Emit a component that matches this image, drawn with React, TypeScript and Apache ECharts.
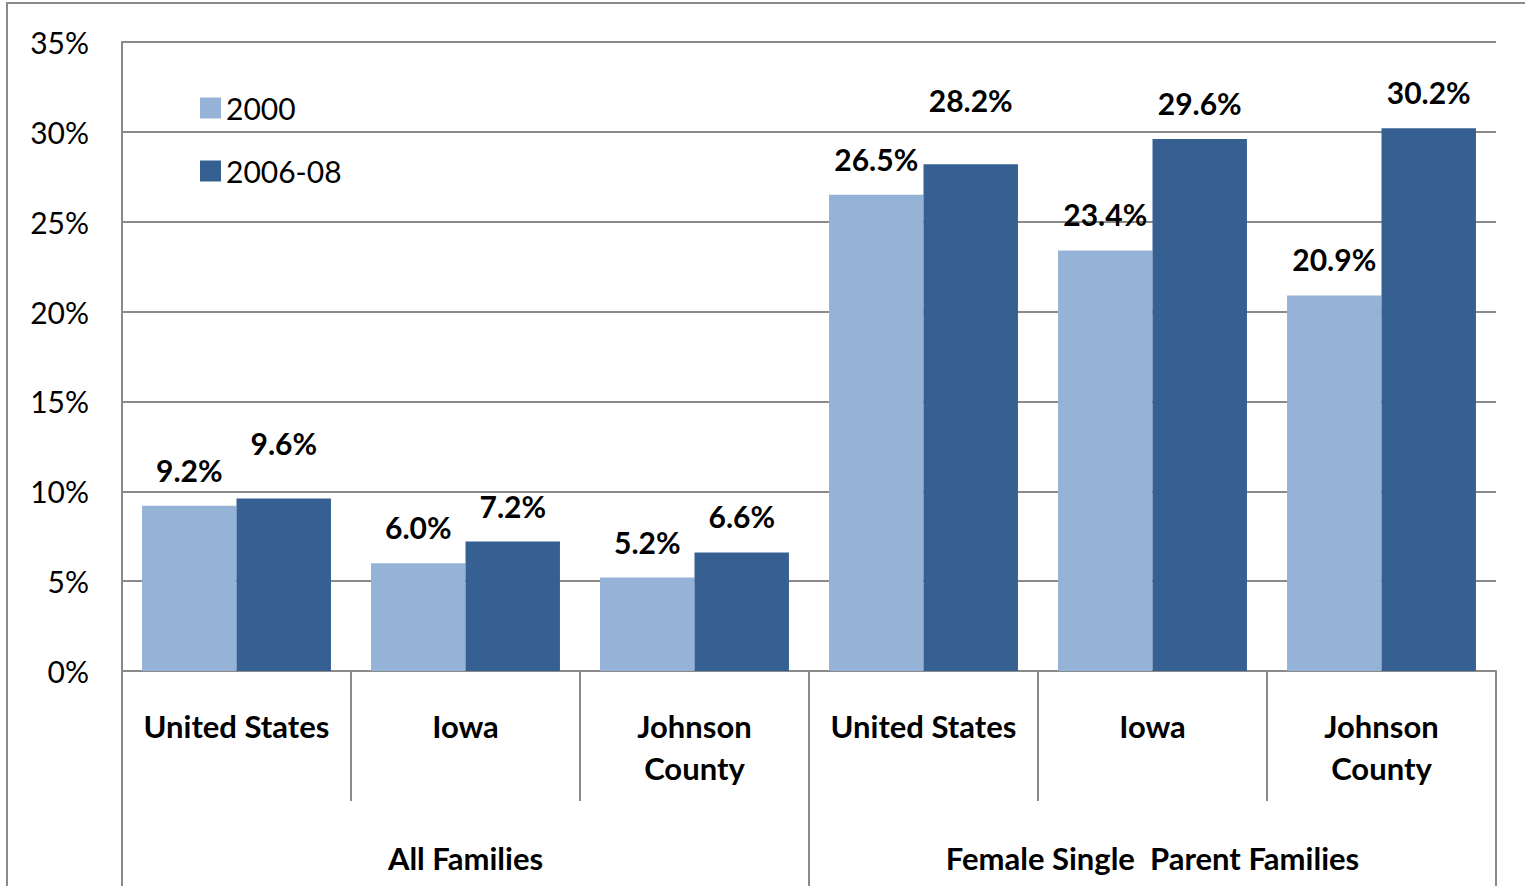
import React, { useEffect, useRef } from "react";
import * as echarts from "echarts";

const categories = ["United States", "Iowa", "Johnson\nCounty", "United States", "Iowa", "Johnson\nCounty"];
const groups = ["All Families", "Female Single  Parent Families"];
const seriesNames = ["2000", "2006-08"];
const values2000 = [9.2, 6.0, 5.2, 26.5, 23.4, 20.9];
const values200608 = [9.6, 7.2, 6.6, 28.2, 29.6, 30.2];
const yTicks = [0, 5, 10, 15, 20, 25, 30, 35];

const FONT = "Lato";
const GRAY = "#8a8a8a";
const LIGHT = "#95B3D7";
const DARK = "#376092";

// label distance overrides (styling), keyed by index
const baseDist = 21;
const distDark: Record<number, number> = { 0: 40, 3: 49 };

export default function App() {
  const ref = useRef<HTMLDivElement>(null);
  useEffect(() => {
    const chart = echarts.init(ref.current!, null, { renderer: "svg" });
    const labelStyle = {
      show: true,
      position: "top",
      fontFamily: FONT,
      fontWeight: "bold",
      fontSize: 30,
      color: "#000",
      formatter: (p: any) => p.value.toFixed(1) + "%",
    };
    chart.setOption({
      animation: false,
      backgroundColor: "#fff",
      graphic: [
        {
          type: "rect",
          silent: true,
          shape: { x: 7, y: 3, width: 1600, height: 1000 },
          style: { fill: "none", stroke: GRAY, lineWidth: 2 },
        },
      ],
      legend: {
        orient: "vertical",
        left: 195,
        top: 88,
        itemWidth: 21,
        itemHeight: 21,
        itemGap: 33,
        icon: "rect",
        data: seriesNames,
        textStyle: { fontFamily: FONT, fontSize: 30, color: "#000", padding: [0, 0, 0, 0] },
      },
      grid: { left: 122, right: 29, top: 42, bottom: 215, containLabel: false },
      xAxis: [
        {
          type: "category",
          data: categories,
          position: "bottom",
          axisLine: { show: true, lineStyle: { color: GRAY, width: 2 } },
          axisTick: { show: true, length: 130, lineStyle: { color: GRAY, width: 2 } },
          axisLabel: {
            interval: 0,
            margin: 34,
            fontFamily: FONT,
            fontWeight: "bold",
            fontSize: 31,
            lineHeight: 42,
            color: "#000",
          },
        },
        {
          type: "category",
          data: groups,
          position: "bottom",
          axisLine: { show: false },
          axisTick: { show: true, length: 220, lineStyle: { color: GRAY, width: 2 } },
          axisLabel: {
            interval: 0,
            margin: 171,
            fontFamily: FONT,
            fontWeight: "bold",
            fontSize: 31,
            color: "#000",
          },
        },
      ],
      yAxis: {
        type: "value",
        min: yTicks[0],
        max: yTicks[yTicks.length - 1],
        interval: 5,
        axisLine: { show: true, lineStyle: { color: GRAY, width: 2 } },
        axisTick: { show: false },
        splitLine: { show: true, lineStyle: { color: GRAY, width: 2 } },
        axisLabel: {
          margin: 33,
          fontFamily: FONT,
          fontSize: 30,
          color: "#000",
          formatter: (v: number) => v + "%",
        },
      },
      series: [
        {
          name: seriesNames[0],
          type: "bar",
          xAxisIndex: 0,
          barGap: "0%",
          barCategoryGap: "17.5%",
          itemStyle: { color: LIGHT },
          label: { ...labelStyle, distance: baseDist },
          data: values2000,
        },
        {
          name: seriesNames[1],
          type: "bar",
          xAxisIndex: 0,
          barGap: "0%",
          barCategoryGap: "17.5%",
          itemStyle: { color: DARK },
          label: { ...labelStyle, distance: baseDist },
          data: values200608.map((v, i) =>
            distDark[i] !== undefined ? { value: v, label: { distance: distDark[i] } } : v
          ),
        },
      ],
    });
    return () => chart.dispose();
  }, []);
  return (
    <div
      ref={ref}
      style={{ position: "fixed", left: 0, top: 0, width: 1525, height: 886, background: "#fff" }}
    />
  );
}
